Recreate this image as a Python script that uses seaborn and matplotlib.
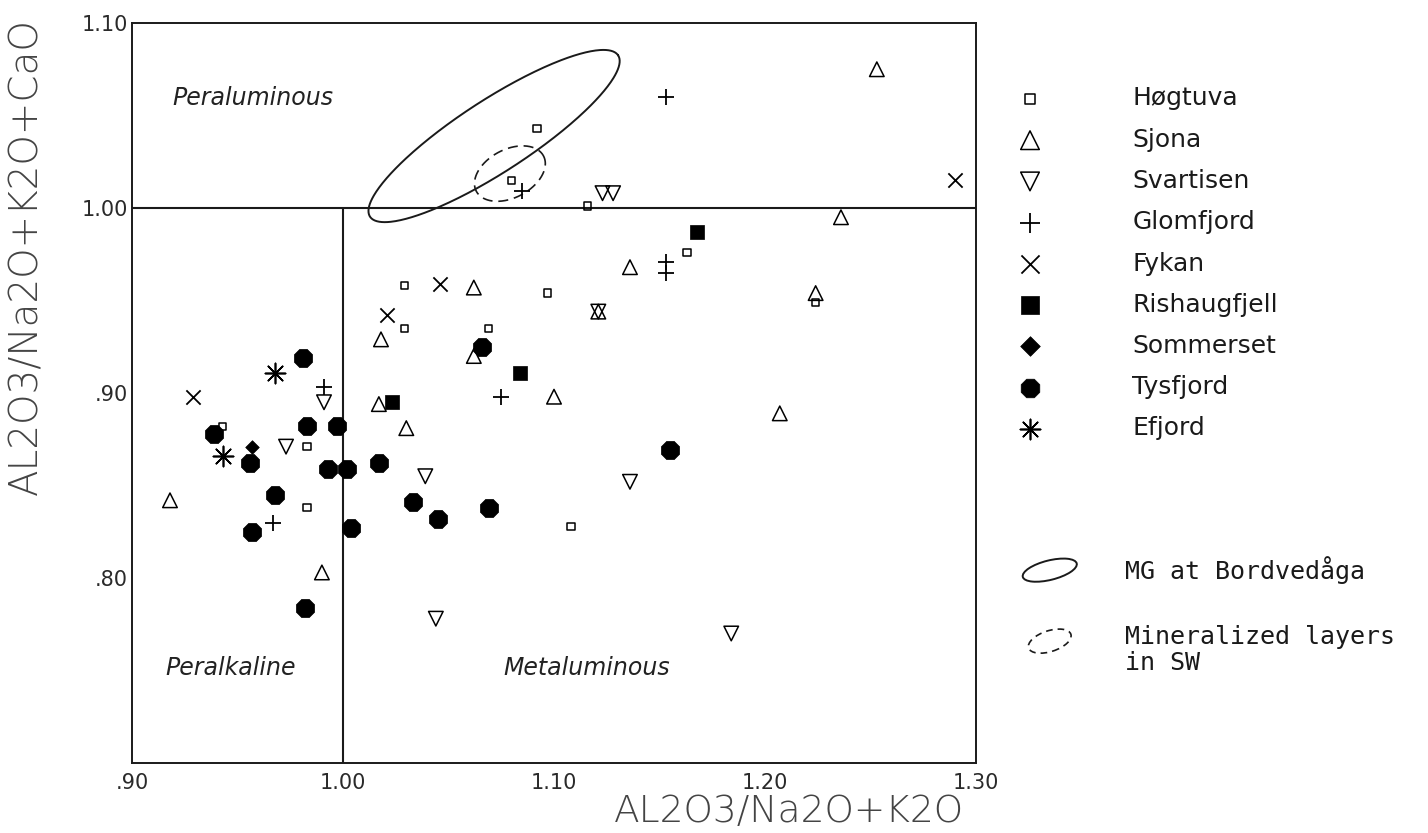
import numpy as np
import pandas as pd
import matplotlib
matplotlib.use("Agg")
import matplotlib.pyplot as plt
import matplotlib.patches as mpatches
from matplotlib.legend_handler import HandlerPatch
from matplotlib.ticker import FuncFormatter
import seaborn as sns

# ---------------- data ----------------
hogtuva_x = [1.092, 1.080, 1.116, 1.163, 1.224, 1.029, 1.029, 1.069, 1.097, 0.943, 0.983, 0.983, 1.108]
hogtuva_y = [1.043, 1.015, 1.001, 0.976, 0.949, 0.958, 0.935, 0.935, 0.954, 0.882, 0.871, 0.838, 0.828]

sjona_x = [1.253, 1.236, 1.224, 1.136, 1.062, 1.018, 1.062, 1.017, 1.030, 1.100, 1.121, 1.207, 0.918, 0.990]
sjona_y = [1.075, 0.995, 0.954, 0.968, 0.957, 0.929, 0.920, 0.894, 0.881, 0.898, 0.944, 0.889, 0.842, 0.803]

svartisen_x = [1.123, 1.128, 1.121, 0.991, 0.973, 1.039, 1.136, 1.044, 1.184]
svartisen_y = [1.008, 1.008, 0.944, 0.895, 0.871, 0.855, 0.852, 0.778, 0.770]

glomfjord_x = [1.153, 1.085, 1.153, 1.153, 0.991, 1.075, 0.967]
glomfjord_y = [1.060, 1.009, 0.971, 0.965, 0.903, 0.898, 0.830]

fykan_x = [1.290, 1.046, 1.021, 0.929]
fykan_y = [1.015, 0.959, 0.942, 0.898]

rishaug_x = [1.168, 1.084, 1.023]
rishaug_y = [0.987, 0.911, 0.895]

sommerset_x = [0.957]
sommerset_y = [0.871]

tysfjord_x = [0.981, 0.939, 0.983, 0.997, 0.956, 0.993, 1.002, 1.017, 0.968, 0.957,
              1.033, 1.045, 1.069, 1.004, 0.982, 1.066, 1.155]
tysfjord_y = [0.919, 0.878, 0.882, 0.882, 0.862, 0.859, 0.859, 0.862, 0.845, 0.825,
              0.841, 0.832, 0.838, 0.827, 0.784, 0.925, 0.869]

efjord_x = [0.968, 0.943]
efjord_y = [0.911, 0.866]

group_names = ["Høgtuva", "Sjona", "Svartisen", "Glomfjord", "Fykan",
               "Rishaugfjell", "Sommerset", "Tysfjord", "Efjord"]

# outlined fields: centre and two conjugate semi-axis vectors (data units)
mg_centre = (1.0716, 1.0389)
mg_u = (0.0588, 0.0436)
mg_v = (0.0093, -0.0163)
minz_centre = (1.0791, 1.0186)
minz_u = (0.0159, 0.0096)
minz_v = (0.0054, -0.0115)

x_ticks = [0.90, 1.00, 1.10, 1.20, 1.30]
y_ticks = [0.80, 0.90, 1.00, 1.10]
x_label = "AL2O3/Na2O+K2O"
y_label = "AL2O3/Na2O+K2O+CaO"
field_labels = ["Peraluminous", "Peralkaline", "Metaluminous"]
field_pos = [(0.919, 1.0595), (0.916, 0.7514), (1.0758, 0.7514)]
outline_labels = ["MG at Bordvedåga", "Mineralized layers\nin SW"]

# ---------------- styling ----------------
sns.set_theme(style="white")
plt.rcParams['font.family'] = ['DejaVu Sans']

fig = plt.figure(figsize=(14.28, 8.33), dpi=100)
ax = fig.add_axes([132 / 1428, 70 / 833, 844 / 1428, 740 / 833])

# marker, plot size, legend size, kind, linewidth
series = [
    (hogtuva_x, hogtuva_y, "s", 28, 50, "open", 1.1),
    (sjona_x, sjona_y, "^", 110, 180, "open", 1.1),
    (svartisen_x, svartisen_y, "v", 110, 180, "open", 1.1),
    (glomfjord_x, glomfjord_y, "+", 120, 210, "line", 1.3),
    (fykan_x, fykan_y, "x", 105, 170, "line", 1.3),
    (rishaug_x, rishaug_y, "s", 90, 165, "filled", 0.5),
    (sommerset_x, sommerset_y, "D", 48, 100, "filled", 0.5),
    (tysfjord_x, tysfjord_y, "8", 200, 210, "filled", 0.5),
    (efjord_x, efjord_y, (8, 2, 0), 210, 210, "line", 1.2),
]

for name, (xs, ys, mk, size, _, kind, lw) in zip(group_names, series):
    df = pd.DataFrame({"x": xs, "y": ys})
    if kind == "open":
        sns.scatterplot(data=df, x="x", y="y", marker=mk, s=size, color="black",
                        facecolor="none", edgecolor="black", linewidth=lw,
                        label=name, legend=False, ax=ax, zorder=4)
    elif kind == "line":
        sns.scatterplot(data=df, x="x", y="y", marker=mk, s=size, color="black",
                        linewidth=lw, label=name, legend=False, ax=ax, zorder=4)
    else:
        sns.scatterplot(data=df, x="x", y="y", marker=mk, s=size, color="black",
                        edgecolor="black", linewidth=lw, label=name, legend=False,
                        ax=ax, zorder=3 if mk == "8" else 3.5)

# field boundaries
ax.axhline(1.00, color="#1a1a1a", lw=1.5, zorder=2)
ax.vlines(1.00, 0.70, 1.00, color="#1a1a1a", lw=1.5, zorder=2)

# outlined fields
t = np.linspace(0, 2 * np.pi, 400)
ex = mg_centre[0] + mg_u[0] * np.cos(t) + mg_v[0] * np.sin(t)
ey = mg_centre[1] + mg_u[1] * np.cos(t) + mg_v[1] * np.sin(t)
ax.plot(ex, ey, color="#1a1a1a", lw=1.4, zorder=2)
dx = minz_centre[0] + minz_u[0] * np.cos(t) + minz_v[0] * np.sin(t)
dy = minz_centre[1] + minz_u[1] * np.cos(t) + minz_v[1] * np.sin(t)
ax.plot(dx, dy, color="#1a1a1a", lw=1.2, ls=(0, (6, 3.5)), zorder=2)

# field names
for txt, (tx, ty) in zip(field_labels, field_pos):
    ax.text(tx, ty, txt, fontsize=17, fontstyle="italic", color="#222222",
            ha="left", va="center")

ax.set_xlim(0.90, 1.30)
ax.set_ylim(0.70, 1.10)
ax.set_xticks(x_ticks)
ax.set_yticks(y_ticks)
fmt = FuncFormatter(lambda v, p: f"{v:.2f}".lstrip("0"))
ax.xaxis.set_major_formatter(fmt)
ax.yaxis.set_major_formatter(fmt)
ax.tick_params(axis="both", length=0, labelsize=15, labelcolor="#2a2a2a")
ax.tick_params(axis="x", pad=7)
ax.tick_params(axis="y", pad=3)
for sp in ax.spines.values():
    sp.set_visible(True)
    sp.set_color("#1a1a1a")
    sp.set_linewidth(1.4)

ax.set_xlabel(x_label, fontsize=27, color="#444444", fontweight="light",
              ha="center", va="center")
ax.xaxis.set_label_coords((789 - 132) / 844, (763 - 812) / 740)
ax.set_ylabel(y_label, fontsize=28, color="#444444", fontweight="light",
              ha="center", va="center", rotation=90)
ax.yaxis.set_label_coords((26 - 132) / 844, (763 - 257) / 740)

# legend of sample groups
handles, labels = ax.get_legend_handles_labels()
leg1 = fig.legend(handles, labels, loc="upper left",
                  bbox_to_anchor=(1017.5 / 1428, 1 - 86.5 / 833),
                  frameon=False, borderpad=0, borderaxespad=0,
                  handlelength=1.0, handletextpad=3.6, labelspacing=0.69,
                  scatterpoints=1, prop={"size": 18})
for tx in leg1.get_texts():
    tx.set_color("#1a1a1a")
for h, spec in zip(leg1.legend_handles, series):
    h.set_sizes([spec[4]])


# legend of outlined fields
class EllipseHandler(HandlerPatch):
    def create_artists(self, legend, orig_handle, xdescent, ydescent, width,
                       height, fontsize, trans):
        cx = 0.5 * width - xdescent
        cy = 0.5 * height - ydescent + getattr(orig_handle, "legend_dy", 0)
        e = mpatches.Ellipse((cx, cy), orig_handle.width, orig_handle.height,
                             angle=orig_handle.angle)
        self.update_prop(e, orig_handle, legend)
        e.set_transform(trans)
        return [e]


proxy_mg = mpatches.Ellipse((0, 0), 40, 14, angle=14, facecolor="none",
                            edgecolor="#1a1a1a", lw=1.4)
proxy_mz = mpatches.Ellipse((0, 0), 32, 15, angle=18, facecolor="none",
                            edgecolor="#1a1a1a", lw=1.2, ls=(0, (4, 3)))
proxy_mz.legend_dy = 7
leg2 = fig.legend([proxy_mg, proxy_mz], outline_labels, loc="upper left",
                  bbox_to_anchor=(1022 / 1428, 1 - 556 / 833),
                  frameon=False, borderpad=0, borderaxespad=0,
                  handlelength=2.22, handletextpad=1.9, labelspacing=1.65,
                  handler_map={mpatches.Ellipse: EllipseHandler()},
                  prop={"family": "DejaVu Sans Mono", "size": 18})
for tx in leg2.get_texts():
    tx.set_linespacing(1.1)
    tx.set_color("#1a1a1a")

fig.savefig("out.png", dpi=100, facecolor="white")
